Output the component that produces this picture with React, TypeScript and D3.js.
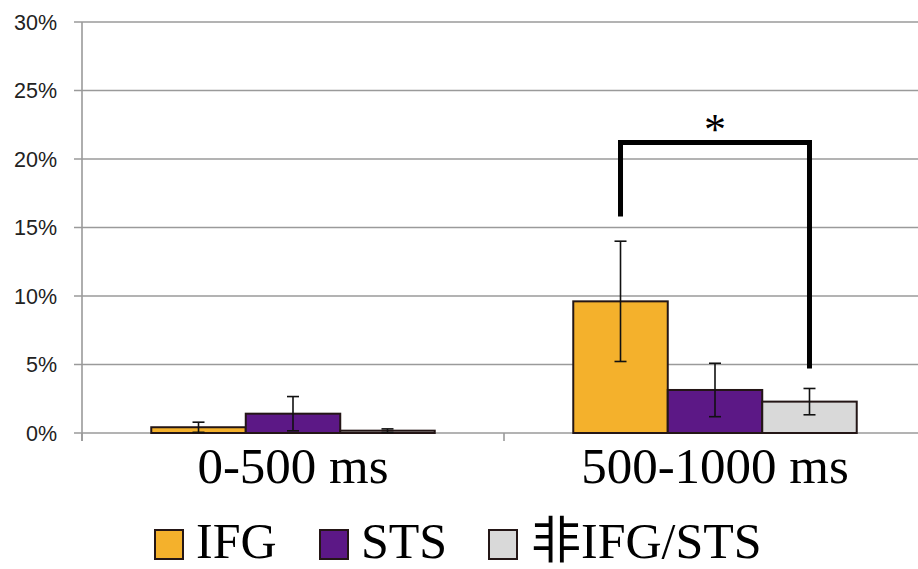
import React from "react";
import * as d3 from "d3";

const categories = ["0-500 ms", "500-1000 ms"];
const seriesNames = ["IFG", "STS", "非IFG/STS"];
const seriesColors = ["#F4B12C", "#5C1886", "#D9D9D9"];
const ifgValues = [0.42, 9.61];
const stsValues = [1.41, 3.14];
const otherValues = [0.17, 2.29];
const ifgErr = [0.37, 4.39];
const stsErr = [1.25, 1.95];
const otherErr = [0.13, 0.96];
const yTicks = [0, 5, 10, 15, 20, 25, 30];
// significance bracket (in % units)
const bracketTop = 21.2;
const bracketLeftEnd = 15.8;
const bracketRightEnd = 4.7;

const W = 918;
const H = 569;
const M = { left: 82, top: 22, bottom: 433 };

export default function App() {
  const values = [ifgValues, stsValues, otherValues];
  const errs = [ifgErr, stsErr, otherErr];
  const y = d3.scaleLinear().domain([0, 30]).range([M.bottom, M.top]);
  const x = d3.scaleBand().domain(categories).range([M.left, 926]).paddingInner(0).paddingOuter(0);
  const xs = d3
    .scaleBand()
    .domain(seriesNames)
    .range([0, x.bandwidth()])
    .paddingInner(0)
    .paddingOuter(0.733);

  const bars: any[] = [];
  const errBars: any[] = [];
  categories.forEach((c, ci) => {
    seriesNames.forEach((s, si) => {
      const v = values[si][ci];
      const e = errs[si][ci];
      const bx = (x(c) as number) + (xs(s) as number);
      const bw = xs.bandwidth();
      bars.push(
        <rect
          key={`b${ci}${si}`}
          x={bx}
          y={y(v)}
          width={bw}
          height={y(0) - y(v)}
          fill={seriesColors[si]}
          stroke="#241616"
          strokeWidth={2}
        />
      );
      const cx = bx + bw / 2;
      const lo = Math.max(0, v - e);
      const hi = v + e;
      errBars.push(
        <g key={`e${ci}${si}`} stroke="#111" strokeWidth={1.6}>
          <line x1={cx} x2={cx} y1={y(lo)} y2={y(hi)} />
          <line x1={cx - 6} x2={cx + 6} y1={y(hi)} y2={y(hi)} />
          <line x1={cx - 6} x2={cx + 6} y1={y(lo)} y2={y(lo)} />
        </g>
      );
    });
  });

  const c2 = categories[1];
  const leftX = (x(c2) as number) + (xs(seriesNames[0]) as number) + xs.bandwidth() / 2;
  const rightX = (x(c2) as number) + (xs(seriesNames[2]) as number) + xs.bandwidth() / 2;

  const boundaries = [M.left, ...categories.map((c) => (x(c) as number) + x.bandwidth())];

  const legendItems = [
    { sq: 155, tx: 196 },
    { sq: 320, tx: 361 },
    { sq: 489, tx: 531 },
  ];

  return (
    <svg
      width={W}
      height={H}
      style={{ position: "absolute", left: 0, top: 0, background: "#fff" }}
    >
      {yTicks.map((t) => (
        <g key={t}>
          <line x1={74} x2={W} y1={y(t)} y2={y(t)} stroke="#9a9a9a" strokeWidth={1.6} />
          <text
            x={57}
            y={y(t)}
            dy="0.35em"
            textAnchor="end"
            fontFamily="'Liberation Sans', Arial, sans-serif"
            fontSize={21.5}
            fill="#222"
          >
            {t}%
          </text>
        </g>
      ))}
      <line x1={M.left} x2={M.left} y1={M.top} y2={M.bottom + 8} stroke="#9a9a9a" strokeWidth={1.6} />
      {boundaries.map((b, i) => (
        <line key={i} x1={b} x2={b} y1={M.bottom} y2={M.bottom + 8} stroke="#9a9a9a" strokeWidth={1.6} />
      ))}
      {bars}
      {errBars}
      <path
        d={`M${leftX},${y(bracketLeftEnd)} V${y(bracketTop)} H${rightX} V${y(bracketRightEnd)}`}
        fill="none"
        stroke="#000"
        strokeWidth={5}
        strokeLinejoin="miter"
      />
      <text
        x={(leftX + rightX) / 2}
        y={y(bracketTop) + 1}
        textAnchor="middle"
        fontFamily="'Liberation Serif', serif"
        fontSize={44}
        fill="#000"
      >
        *
      </text>
      {categories.map((c) => (
        <text
          key={c}
          x={(x(c) as number) + x.bandwidth() / 2}
          y={482.5}
          textAnchor="middle"
          fontFamily="'Liberation Serif', 'Times New Roman', serif"
          fontSize={51}
          fill="#000"
        >
          {c}
        </text>
      ))}
      {seriesNames.map((s, i) => (
        <g key={s}>
          <rect
            x={legendItems[i].sq}
            y={530}
            width={28}
            height={29}
            fill={seriesColors[i]}
            stroke="#241616"
            strokeWidth={2}
          />
          <text
            x={legendItems[i].tx}
            y={558}
            fontFamily="'Liberation Serif', 'Noto Sans CJK SC', serif"
            fontSize={50}
            fill="#000"
          >
            {s}
          </text>
        </g>
      ))}
    </svg>
  );
}
